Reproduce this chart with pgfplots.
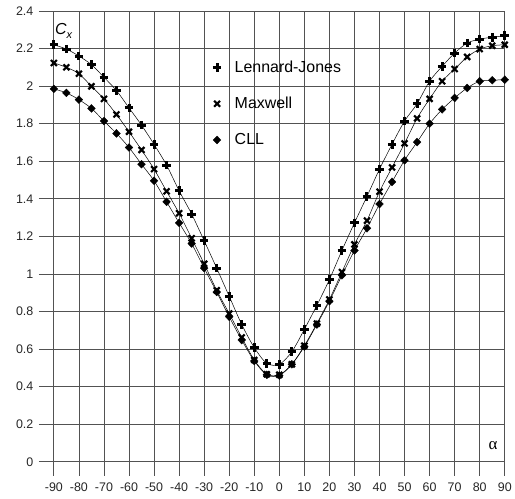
\documentclass[border=0pt]{standalone}
\usepackage{fontspec}
\setmainfont{Liberation Sans}
\newfontfamily\seriffont{Liberation Serif}
\usepackage{pgfplots}
\pgfplotsset{compat=1.18}
\begin{document}
\begin{tikzpicture}
\begin{axis}[
  scale only axis, width=468pt, height=467pt,
  xmin=-96, xmax=90, ymin=-0.075, ymax=2.4,
  xtick={-90,-80,-70,-60,-50,-40,-30,-20,-10,0,10,20,30,40,50,60,70,80,90},
  ytick={0,0.2,0.4,0.6,0.8,1,1.2,1.4,1.6,1.8,2,2.2,2.4},
  grid=major, grid style={black!68, line width=0.75pt},
  axis line style={draw=none}, major tick length=0pt,
  /pgf/number format/assume math mode=true,
  tick label style={font=\fontsize{12.5}{14}\selectfont, text=black!85},
  yticklabel style={xshift=-2pt},
  xticklabel style={yshift=-3pt},
  clip=false,
  legend image code/.code={\draw[#1, only marks] plot coordinates {(8.5pt,0pt)}; \path (0pt,0pt) (24pt,0pt);},
  legend style={draw=none, fill=none, at={(axis cs:-28.4,1.907)}, anchor=west,
    font=\fontsize{16}{18}\selectfont, row sep=19.5pt, inner sep=0pt},
  legend cell align=left,
]
\addplot[black, line width=0.5pt, smooth, mark=+, mark size=4.3pt, mark options={line width=3pt}] coordinates {
(-90,2.22) (-85,2.197) (-80,2.16) (-75,2.114) (-70,2.047) (-65,1.976) (-60,1.884) (-55,1.792)
(-50,1.69) (-45,1.579) (-40,1.443) (-35,1.319) (-30,1.177) (-25,1.031) (-20,0.881) (-15,0.731)
(-10,0.608) (-5,0.524) (0,0.519) (5,0.586) (10,0.705) (15,0.833) (20,0.97) (25,1.125)
(30,1.272) (35,1.413) (40,1.558) (45,1.69) (50,1.814) (55,1.906) (60,2.026) (65,2.105)
(70,2.176) (75,2.229) (80,2.25) (85,2.26) (90,2.268)};
\addlegendentry{Lennard-Jones}
\addplot[black, line width=0.5pt, smooth, mark=x, mark size=4.2pt, mark options={line width=2.2pt}] coordinates {
(-90,2.123) (-85,2.1) (-80,2.066) (-75,1.999) (-70,1.932) (-65,1.849) (-60,1.757) (-55,1.66)
(-50,1.558) (-45,1.44) (-40,1.323) (-35,1.19) (-30,1.054) (-25,0.913) (-20,0.789) (-15,0.662)
(-10,0.542) (-5,0.466) (0,0.463) (5,0.519) (10,0.618) (15,0.736) (20,0.864) (25,1.01)
(30,1.157) (35,1.284) (40,1.438) (45,1.567) (50,1.695) (55,1.828) (60,1.932) (65,2.026)
(70,2.091) (75,2.155) (80,2.197) (85,2.215) (90,2.22)};
\addlegendentry{Maxwell}
\addplot[black, line width=0.5pt, smooth, mark=diamond*, mark size=4pt, mark options={line width=0.3pt, xscale=1.3}] coordinates {
(-90,1.985) (-85,1.964) (-80,1.928) (-75,1.881) (-70,1.814) (-65,1.748) (-60,1.673) (-55,1.584)
(-50,1.496) (-45,1.384) (-40,1.272) (-35,1.162) (-30,1.031) (-25,0.904) (-20,0.772) (-15,0.648)
(-10,0.537) (-5,0.463) (0,0.459) (5,0.519) (10,0.613) (15,0.731) (20,0.855) (25,0.993)
(30,1.125) (35,1.243) (40,1.372) (45,1.49) (50,1.605) (55,1.702) (60,1.8) (65,1.876)
(70,1.937) (75,1.99) (80,2.026) (85,2.031) (90,2.034)};
\addlegendentry{CLL}
\node[font=\fontsize{16}{18}\selectfont\itshape, inner sep=0pt, anchor=base west] at (axis cs:-89.6,2.272) {C\raisebox{-0.4ex}{\fontsize{11}{11}\selectfont x}};
\node[inner sep=0pt] at (axis cs:85.3,0.085) {\seriffont\fontsize{17}{17}\selectfont α};
\end{axis}
\path (current axis.south west) ++(-39pt,-23pt) coordinate (bbA);
\path (current axis.north east) ++(8pt,11pt) coordinate (bbB);
\path (bbA) rectangle (bbB);
\end{tikzpicture}
\end{document}
